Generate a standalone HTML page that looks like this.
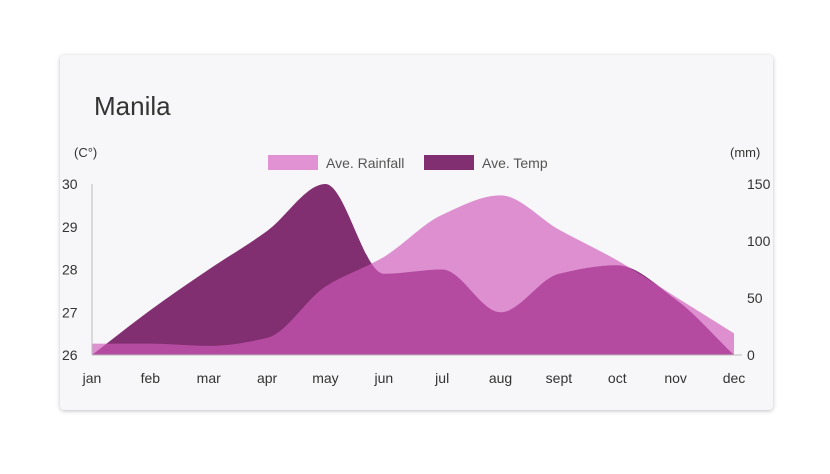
<!DOCTYPE html>
<html><head><meta charset="utf-8"><style>
body{margin:0;background:#fff;width:830px;height:474px;overflow:hidden;font-family:"Liberation Sans",sans-serif}
#card{position:absolute;left:60px;top:55px;width:713px;height:355px;background:#f7f7f9;border-radius:4px;box-shadow:0 1px 4px rgba(0,0,0,0.25)}
</style></head><body>
<div id="card"></div>
<svg id="chart" width="830" height="474" style="position:absolute;left:0;top:0">
<text x="94" y="115" font-size="26" fill="#333">Manila</text>
<text x="74" y="157" font-size="13" fill="#333">(C°)</text>
<text x="730" y="157" font-size="13" fill="#333">(mm)</text>
<rect x="268" y="155" width="50" height="15" fill="#e092d2"/>
<text x="326" y="168" font-size="14" fill="#555">Ave. Rainfall</text>
<rect x="424" y="155" width="50" height="15" fill="#812f71"/>
<text x="482" y="168" font-size="14" fill="#555">Ave. Temp</text>
<g id="plot"></g>
</svg>
<script>
const months=["jan","feb","mar","apr","may","jun","jul","aug","sept","oct","nov","dec"];
const temp=[26,27.05,28,28.9,30,27.9,28.0,27.0,27.9,28.1,27.3,26];
const rain=[10,10,8,15,60,86,123,140,110,83,51,19];
const tempTicks=[26,27,28,29,30];
const rainTicks=[0,50,100,150];
const NS="http://www.w3.org/2000/svg";
const x0=92,x1=734,yTop=184,yBot=355;
const xs=i=>x0+i*(x1-x0)/(months.length-1);
const yT=v=>yBot-(v-26)/(30-26)*(yBot-yTop);
const yR=v=>yBot-v/150*(yBot-yTop);
function monotone(pts){
  const n=pts.length,dx=[],m=[],t=[];
  for(let i=0;i<n-1;i++){dx.push(pts[i+1][0]-pts[i][0]);m.push((pts[i+1][1]-pts[i][1])/dx[i]);}
  t[0]=m[0];t[n-1]=m[n-2];
  for(let i=1;i<n-1;i++){t[i]=(m[i-1]*m[i]<=0)?0:3*(dx[i-1]+dx[i])/((2*dx[i]+dx[i-1])/m[i-1]+(dx[i]+2*dx[i-1])/m[i]);}
  let d="M"+pts[0][0]+","+pts[0][1];
  for(let i=0;i<n-1;i++){const h=dx[i]/3;
    d+=" C"+(pts[i][0]+h)+","+(pts[i][1]+t[i]*h)+" "+(pts[i+1][0]-h)+","+(pts[i+1][1]-t[i+1]*h)+" "+pts[i+1][0]+","+pts[i+1][1];}
  return d;
}
const g=document.getElementById("plot");
function mk(tag,attrs){const e=document.createElementNS(NS,tag);for(const k in attrs)e.setAttribute(k,attrs[k]);g.appendChild(e);return e;}
const tp=monotone(temp.map((v,i)=>[xs(i),yT(v)]));
const ta=mk("path",{d:tp+" L"+x1+","+yBot+" L"+x0+","+yBot+" Z",fill:"#812f71"});


const rp=monotone(rain.map((v,i)=>[xs(i),yR(v)]));
const ra=mk("path",{d:rp+" L"+x1+","+yBot+" L"+x0+","+yBot+" Z",fill:"rgb(208,90,187)","fill-opacity":"0.66"});


const ax=mk("line",{x1:x0,y1:yTop,x2:x0,y2:yBot,stroke:"#bbb","stroke-width":1});


const bx=mk("line",{x1:x0,y1:yBot,x2:x1+8,y2:yBot,stroke:"#bbb","stroke-width":1});


tempTicks.forEach(v=>{const t=mk("text",{x:62,y:yT(v)+5,"font-size":14,fill:"#333"});t.textContent=v;

});
rainTicks.forEach(v=>{const t=mk("text",{x:747,y:yR(v)+5,"font-size":14,fill:"#333"});t.textContent=v;

});
months.forEach((m,i)=>{const t=mk("text",{x:xs(i),y:383,"font-size":14,fill:"#333","text-anchor":"middle"});t.textContent=m;

});
</script>
</body></html>
